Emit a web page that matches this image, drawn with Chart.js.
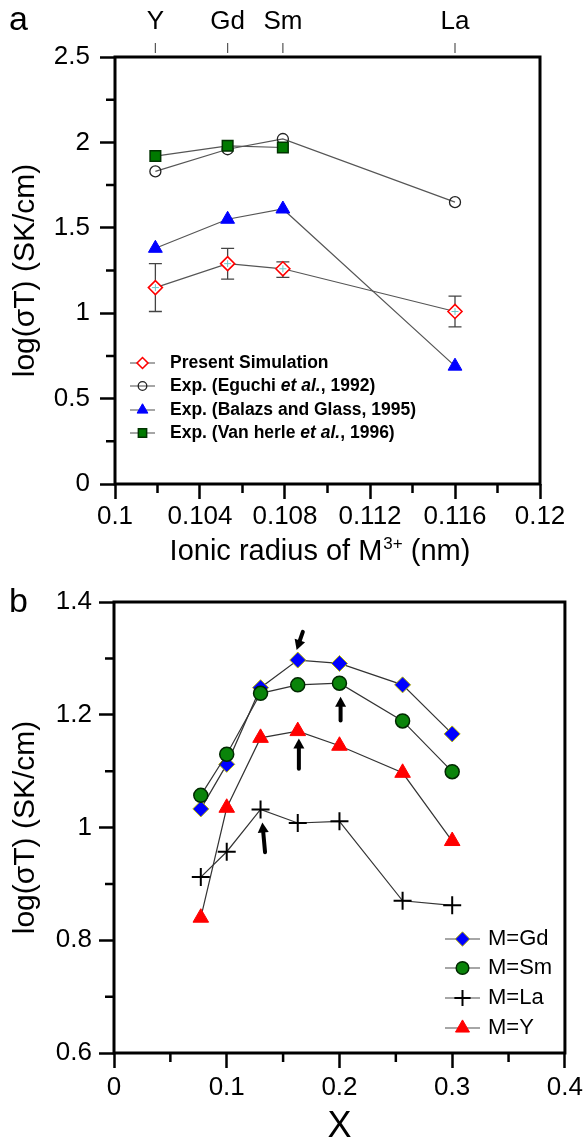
<!DOCTYPE html>
<html>
<head>
<meta charset="utf-8">
<script src="https://cdn.jsdelivr.net/npm/chart.js@4.4.1/dist/chart.umd.min.js"></script>
<style>
  html, body { margin: 0; padding: 0; background: #fff; }
  #wrap { position: relative; width: 587px; height: 1140px; }
  .panel { position: absolute; left: 0; width: 587px; height: 570px; }
</style>
</head>
<body>
<div id="wrap">
  <div class="panel" style="top:0"><canvas id="chartA"></canvas></div>
  <div class="panel" style="top:570px"><canvas id="chartB"></canvas></div>
</div>
<script>
// ---- panel a: conductivity vs ionic radius ----
const ionNames = ["Y", "Gd", "Sm", "La"];
const ionRadius = [0.1019, 0.1053, 0.1079, 0.116];
const simValues = [1.15, 1.29, 1.26, 1.01];
const simErrLow = [1.01, 1.20, 1.21, 0.92];
const simErrHigh = [1.29, 1.38, 1.30, 1.10];
const eguchiValues = [1.83, 1.96, 2.02, 1.65];
const balazsValues = [1.38, 1.55, 1.61, 0.69];
const vanHerleValues = [1.92, 1.98, 1.97]; // no La point
const aXTicks = [0.1, 0.104, 0.108, 0.112, 0.116, 0.12];
const aYTicks = [0, 0.5, 1, 1.5, 2, 2.5];

// ---- panel b: conductivity vs dopant fraction ----
const dopantX = [0.077, 0.1, 0.13, 0.163, 0.2, 0.256, 0.3];
const gdValues = [1.033, 1.112, 1.248, 1.297, 1.291, 1.253, 1.166];
const smValues = [1.057, 1.130, 1.238, 1.253, 1.256, 1.189, 1.099];
const laValues = [0.912, 0.957, 1.032, 1.008, 1.011, 0.870, 0.862];
const yValues = [0.840, 1.035, 1.159, 1.171, 1.145, 1.097, 0.976];
const bXTicks = [0, 0.1, 0.2, 0.3, 0.4];
const bYTicks = [0.6, 0.8, 1, 1.2, 1.4];
// arrows marking the maximum of each curve, [fromX, fromY, toX, toY]
const peakArrows = [
  [0.1675, 1.347, 0.162, 1.315],
  [0.201, 1.190, 0.201, 1.232],
  [0.164, 1.104, 0.164, 1.158],
  [0.134, 0.956, 0.1316, 1.009]
];

const FONT = "'Liberation Sans', Arial, Helvetica, sans-serif";
Chart.defaults.font.family = FONT;
Chart.defaults.color = "#000";

const pts = (xs, ys) => ys.map((v, i) => ({ x: xs[i], y: v }));
const mids = arr => arr.slice(1).map((v, i) => (v + arr[i]) / 2);

function valueAxis(position, min, max, ticksArr, pad, size) {
  return {
    type: "linear", position, min, max,
    border: { display: false },
    grid: { drawOnChartArea: false, drawTicks: true, tickLength: 15, tickWidth: 2.5, tickColor: "#000" },
    ticks: {
      font: { size: 26 }, color: "#000", padding: pad, autoSkip: false, maxRotation: 0,
      callback: v => String(+Number(v).toFixed(3))
    },
    afterBuildTicks: s => { s.ticks = ticksArr.map(v => ({ value: v })); },
    afterFit: s => { if (s.isHorizontal()) s.height = size; else s.width = size; }
  };
}

function drawFrame(chart) {
  const { ctx, chartArea: a } = chart;
  ctx.save();
  ctx.strokeStyle = "#000";
  ctx.lineWidth = 3;
  ctx.strokeRect(a.left, a.top, a.right - a.left, a.bottom - a.top);
  ctx.restore();
}

function drawMinorTicks(chart, xMinor, yMinor) {
  const { ctx, chartArea: a, scales } = chart;
  ctx.save();
  ctx.strokeStyle = "#000";
  ctx.lineWidth = 2.5;
  ctx.beginPath();
  xMinor.forEach(v => {
    const px = scales.x.getPixelForValue(v);
    ctx.moveTo(px, a.bottom); ctx.lineTo(px, a.bottom + 9);
  });
  yMinor.forEach(v => {
    const py = scales.y.getPixelForValue(v);
    ctx.moveTo(a.left, py); ctx.lineTo(a.left - 9, py);
  });
  ctx.stroke();
  ctx.restore();
}

function drawYTitle(chart, x) {
  const { ctx, chartArea: a } = chart;
  ctx.save();
  ctx.translate(x, (a.top + a.bottom) / 2);
  ctx.rotate(-Math.PI / 2);
  ctx.font = "30px " + FONT;
  ctx.fillStyle = "#000";
  ctx.textAlign = "center";
  ctx.textBaseline = "middle";
  ctx.fillText("log(\u03c3T) (SK/cm)", 0, 0);
  ctx.restore();
}

function drawLetter(ctx, letter, x, y) {
  ctx.save();
  ctx.font = "34px " + FONT;
  ctx.fillStyle = "#000";
  ctx.textBaseline = "alphabetic";
  ctx.fillText(letter, x, y);
  ctx.restore();
}

// legend row: line + marker of a dataset, then text (italic for "et al.")
function legendRow(ctx, ds, x0, x1, y, textX, size, bold, scale) {
  ctx.save();
  ctx.strokeStyle = "#888";
  ctx.lineWidth = 1.5;
  ctx.beginPath(); ctx.moveTo(x0, y); ctx.lineTo(x1, y); ctx.stroke();
  ctx.fillStyle = ds.pointBackgroundColor;
  ctx.strokeStyle = ds.pointBorderColor;
  ctx.lineWidth = ds.pointBorderWidth;
  Chart.helpers.drawPoint(ctx, {
    pointStyle: ds.pointStyle, radius: ds.pointRadius * scale, rotation: 0,
    borderWidth: ds.pointBorderWidth
  }, (x0 + x1) / 2, y);
  ctx.fillStyle = "#000";
  ctx.textBaseline = "middle";
  let tx = textX;
  ds.label.split(/(et al\.)/).forEach(part => {
    if (!part) return;
    const italic = part === "et al.";
    ctx.font = (italic ? "italic " : "") + (bold ? "bold " : "") + size + "px " + FONT;
    ctx.fillText(part, tx, y);
    tx += ctx.measureText(part).width;
  });
  ctx.restore();
}

const panelAPlugin = {
  id: "panelADecor",
  beforeDatasetsDraw(chart) {
    const { ctx, scales } = chart;
    ctx.save();
    ctx.strokeStyle = "#444";
    ctx.lineWidth = 1.3;
    ctx.beginPath();
    ionRadius.forEach((r, i) => {
      const px = scales.x.getPixelForValue(r);
      const lo = scales.y.getPixelForValue(simErrLow[i]);
      const hi = scales.y.getPixelForValue(simErrHigh[i]);
      ctx.moveTo(px, lo); ctx.lineTo(px, hi);
      ctx.moveTo(px - 6.5, lo); ctx.lineTo(px + 6.5, lo);
      ctx.moveTo(px - 6.5, hi); ctx.lineTo(px + 6.5, hi);
    });
    ctx.stroke();
    ctx.restore();
  },
  afterDatasetsDraw(chart) {
    // small cyan cross inside each simulation diamond
    const { ctx, scales } = chart;
    ctx.save();
    ctx.strokeStyle = "#6cc8c8";
    ctx.lineWidth = 1;
    ctx.beginPath();
    ionRadius.forEach((r, i) => {
      const px = scales.x.getPixelForValue(r), py = scales.y.getPixelForValue(simValues[i]);
      ctx.moveTo(px - 3.5, py); ctx.lineTo(px + 3.5, py);
      ctx.moveTo(px, py - 3.5); ctx.lineTo(px, py + 3.5);
    });
    ctx.stroke();
    ctx.restore();
  },
  afterDraw(chart) {
    const { ctx, chartArea: a, scales } = chart;
    drawFrame(chart);
    drawMinorTicks(chart, mids(aXTicks), mids(aYTicks));
    // ion ticks on the top axis
    ctx.save();
    ctx.strokeStyle = "#555";
    ctx.lineWidth = 1.2;
    ctx.beginPath();
    ionRadius.forEach(r => {
      const px = scales.xTop.getPixelForValue(r);
      ctx.moveTo(px, a.top - 4); ctx.lineTo(px, a.top - 14);
    });
    ctx.stroke();
    ctx.restore();
    // legend
    const dsets = chart.data.datasets;
    [363, 386, 410, 433].forEach((y, i) => legendRow(ctx, dsets[i], 130, 155, y, 170, 17.5, true, 0.78));
    // axis titles
    drawYTitle(chart, 26);
    ctx.save();
    ctx.fillStyle = "#000";
    ctx.textBaseline = "alphabetic";
    const big = "29px " + FONT, small = "17px " + FONT;
    const s1 = "Ionic radius of M", s2 = "3+", s3 = " (nm)";
    ctx.font = big; const w1 = ctx.measureText(s1).width, w3 = ctx.measureText(s3).width;
    ctx.font = small; const w2 = ctx.measureText(s2).width;
    let x = (a.left + a.right) / 2 - 8 - (w1 + w2 + w3) / 2;
    const base = 560;
    ctx.font = big; ctx.fillText(s1, x, base); x += w1;
    ctx.font = small; ctx.fillText(s2, x + 1, base - 11); x += w2 + 1;
    ctx.font = big; ctx.fillText(s3, x, base);
    ctx.restore();
    drawLetter(ctx, "a", 9, 30);
  }
};

const panelBPlugin = {
  id: "panelBDecor",
  afterDatasetsDraw(chart) {
    const { ctx, scales } = chart;
    ctx.save();
    ctx.strokeStyle = "#000";
    ctx.fillStyle = "#000";
    peakArrows.forEach(([fx, fy, tx, ty]) => {
      const x1 = scales.x.getPixelForValue(fx), y1 = scales.y.getPixelForValue(fy);
      const x2 = scales.x.getPixelForValue(tx), y2 = scales.y.getPixelForValue(ty);
      const ang = Math.atan2(y2 - y1, x2 - x1), head = 10, hw = 5.5;
      const bx = x2 - Math.cos(ang) * head, by = y2 - Math.sin(ang) * head;
      ctx.lineWidth = 4;
      ctx.lineCap = "round";
      ctx.beginPath(); ctx.moveTo(x1, y1); ctx.lineTo(bx, by); ctx.stroke();
      ctx.beginPath();
      ctx.moveTo(x2, y2);
      ctx.lineTo(bx + Math.sin(ang) * hw, by - Math.cos(ang) * hw);
      ctx.lineTo(bx - Math.sin(ang) * hw, by + Math.cos(ang) * hw);
      ctx.closePath(); ctx.fill();
    });
    ctx.restore();
  },
  afterDraw(chart) {
    const { ctx, chartArea: a } = chart;
    drawFrame(chart);
    drawMinorTicks(chart, mids(bXTicks), mids(bYTicks));
    const dsets = chart.data.datasets;
    [369, 398, 428, 458].forEach((y, i) => legendRow(ctx, dsets[i], 445, 480, y, 488, 22, false, 0.9));
    drawYTitle(chart, 26);
    ctx.save();
    ctx.font = "36px " + FONT;
    ctx.fillStyle = "#000";
    ctx.textAlign = "center";
    ctx.textBaseline = "middle";
    ctx.fillText("X", (a.left + a.right) / 2, 557);
    ctx.restore();
    drawLetter(ctx, "b", 9, 42);
  }
};

new Chart("chartA", {
  type: "scatter",
  data: {
    datasets: [
      {
        label: "Present Simulation", data: pts(ionRadius, simValues), order: 1,
        showLine: true, borderColor: "#555", borderWidth: 1.2,
        pointStyle: "rectRot", pointRadius: 7, pointBackgroundColor: "#fff",
        pointBorderColor: "#ff0000", pointBorderWidth: 1.6
      },
      {
        label: "Exp. (Eguchi et al., 1992)", data: pts(ionRadius, eguchiValues), order: 2,
        showLine: true, borderColor: "#555", borderWidth: 1.2,
        pointStyle: "circle", pointRadius: 5.5, pointBackgroundColor: "rgba(255,255,255,0)",
        pointBorderColor: "#222", pointBorderWidth: 1.3
      },
      {
        label: "Exp. (Balazs and Glass, 1995)", data: pts(ionRadius, balazsValues), order: 1,
        showLine: true, borderColor: "#555", borderWidth: 1.2,
        pointStyle: "triangle", pointRadius: 8, pointBackgroundColor: "#0000ff",
        pointBorderColor: "#0000ff", pointBorderWidth: 1
      },
      {
        label: "Exp. (Van herle et al., 1996)", data: pts(ionRadius, vanHerleValues), order: 0,
        showLine: true, borderColor: "#555", borderWidth: 1.2,
        pointStyle: "rect", pointRadius: 7.5, pointBackgroundColor: "#007a00",
        pointBorderColor: "#003300", pointBorderWidth: 1.5
      }
    ]
  },
  options: {
    responsive: true,
    maintainAspectRatio: false,
    animation: false,
    layout: { autoPadding: false, padding: { left: 0, right: 47, top: 0, bottom: 0 } },
    plugins: { legend: { display: false }, tooltip: { enabled: false } },
    scales: {
      x: valueAxis("bottom", 0.1, 0.12, aXTicks, 2, 86),
      y: valueAxis("left", 0, 2.5, aYTicks, 10, 115),
      xTop: {
        type: "linear", axis: "x", position: "top", min: 0.1, max: 0.12,
        border: { display: false },
        grid: { display: false, drawTicks: false },
        ticks: { font: { size: 26 }, color: "#000", padding: 20, autoSkip: false, maxRotation: 0,
          callback: (v, i) => ionNames[i] },
        afterBuildTicks: s => { s.ticks = ionRadius.map(v => ({ value: v })); },
        afterFit: s => { s.height = 57; }
      }
    }
  },
  plugins: [panelAPlugin]
});

new Chart("chartB", {
  type: "scatter",
  data: {
    datasets: [
      {
        label: "M=Gd", data: pts(dopantX, gdValues), order: 2,
        showLine: true, borderColor: "#333", borderWidth: 1.2,
        pointStyle: "rectRot", pointRadius: 8, pointBackgroundColor: "#0000ff",
        pointBorderColor: "#b8b800", pointBorderWidth: 1
      },
      {
        label: "M=Sm", data: pts(dopantX, smValues), order: 1,
        showLine: true, borderColor: "#333", borderWidth: 1.2,
        pointStyle: "circle", pointRadius: 7, pointBackgroundColor: "#0a840a",
        pointBorderColor: "#002800", pointBorderWidth: 1.5
      },
      {
        label: "M=La", data: pts(dopantX, laValues), order: 1,
        showLine: true, borderColor: "#333", borderWidth: 1.2,
        pointStyle: "cross", pointRadius: 9, pointBackgroundColor: "#000",
        pointBorderColor: "#000", pointBorderWidth: 2
      },
      {
        label: "M=Y", data: pts(dopantX, yValues), order: 1,
        showLine: true, borderColor: "#333", borderWidth: 1.2,
        pointStyle: "triangle", pointRadius: 9, pointBackgroundColor: "#ff0000",
        pointBorderColor: "#ff0000", pointBorderWidth: 1
      }
    ]
  },
  options: {
    responsive: true,
    maintainAspectRatio: false,
    animation: false,
    layout: { autoPadding: false, padding: { left: 0, right: 20, top: 32, bottom: 0 } },
    plugins: { legend: { display: false }, tooltip: { enabled: false } },
    scales: {
      x: valueAxis("bottom", 0, 0.4, bXTicks, 4, 87),
      y: valueAxis("left", 0.6, 1.4, bYTicks, 7, 114)
    }
  },
  plugins: [panelBPlugin]
});
</script>
</body>
</html>
